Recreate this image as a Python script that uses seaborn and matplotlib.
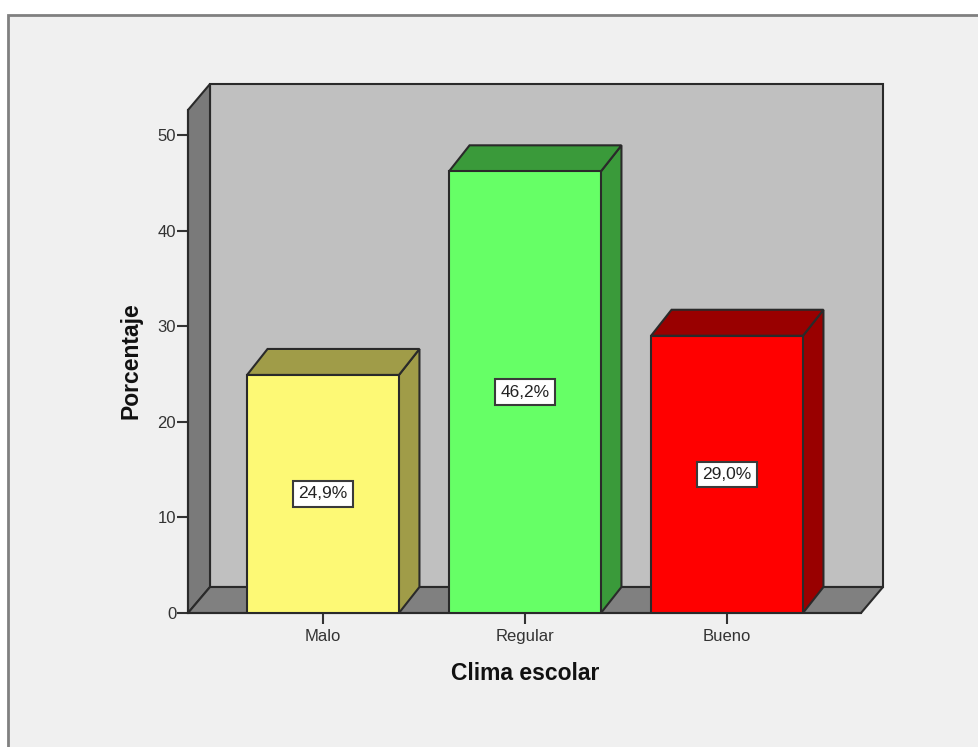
import numpy as np
import pandas as pd
import matplotlib.pyplot as plt
from matplotlib.patches import Polygon, Rectangle
import seaborn as sns

# datos
categorias = ['Malo', 'Regular', 'Bueno']
porcentajes = [24.9, 46.2, 29.0]
etiquetas = ['24,9%', '46,2%', '29,0%']
marcas_y = [0, 10, 20, 30, 40, 50]

# colores
col_frente = ['#fdf975', '#66ff66', '#ff0000']
col_lado = ['#a09c48', '#3a9a3a', '#990000']
FONDO = '#f0f0f0'
BORDE = '#2a2a2a'

sns.set_theme(style="white")
plt.rcParams['font.family'] = ['Liberation Sans', 'DejaVu Sans']

W, H = 979, 747
fig = plt.figure(figsize=(W / 100, H / 100), dpi=100, facecolor='white')

# marco exterior de la ventana (debajo de los ejes)
fig.add_artist(Rectangle((8 / W, -0.02), 1.02, 1.02 - 15 / H, transform=fig.transFigure,
                         facecolor=FONDO, edgecolor='#808080', linewidth=2, zorder=-1))

# ejes en pixeles: x 188-861, y 110-613
ax = fig.add_axes([188 / W, 1 - 613 / H, 673 / W, 503 / H])
ax.patch.set_alpha(0)

df = pd.DataFrame({'Clima escolar': categorias, 'Porcentaje': porcentajes})
sns.barplot(data=df, x='Clima escolar', y='Porcentaje', hue='Clima escolar',
            palette=col_frente, saturation=1, width=0.752, legend=False,
            edgecolor=BORDE, linewidth=1.5, zorder=3, ax=ax)

x0, x1 = (188 - 323) / 202, (861 - 323) / 202
y1 = 503 / 9.56
ax.set_xlim(x0, x1)
ax.set_ylim(0, y1)
dx, dy = 22 / 202, 26 / 9.56  # profundidad 3D
dx_barra = 20.5 / 202


def cara(puntos, color, z=1):
    ax.add_patch(Polygon(puntos, closed=True, facecolor=color, edgecolor=BORDE,
                         linewidth=1.5, zorder=z, clip_on=False))


barras = list(ax.patches)

# paredes y suelo
cara([(x0 + dx, dy), (x1 + dx, dy), (x1 + dx, y1 + dy), (x0 + dx, y1 + dy)], '#c0c0c0', 0.5)
cara([(x0, 0), (x0 + dx, dy), (x0 + dx, y1 + dy), (x0, y1)], '#7a7a7a', 0.6)
cara([(x0, 0), (x1, 0), (x1 + dx, dy), (x0 + dx, dy)], '#808080', 0.6)

# caras laterales y superiores de cada barra
for barra, lado, etq in zip(barras, col_lado, etiquetas):
    a = barra.get_x()
    b = a + barra.get_width()
    h = barra.get_height()
    cara([(b, 0), (b + dx_barra, dy), (b + dx_barra, h + dy), (b, h)], lado, 2)
    cara([(a, h), (b, h), (b + dx_barra, h + dy), (a + dx_barra, h + dy)], lado, 2)
    ax.text(a + barra.get_width() / 2, h / 2, etq, ha='center', va='center', fontsize=12.5,
            color='#222222', zorder=5,
            bbox=dict(boxstyle='square,pad=0.3', facecolor='white', edgecolor='#3a3a3a', linewidth=1.5))

ax.set_yticks(marcas_y)
ax.tick_params(axis='both', which='both', length=8, width=1.5, color='#333333',
               bottom=True, left=True, labelcolor='#333333')
ax.tick_params(axis='y', labelsize=12, pad=0.5)
ax.tick_params(axis='x', labelsize=12, pad=3.5)

sns.despine(ax=ax, top=True, right=True)
for lado in ['left', 'bottom']:
    ax.spines[lado].set_color(BORDE)
    ax.spines[lado].set_linewidth(1.5)

ax.set_xlabel('Clima escolar', fontsize=16.5, fontweight='bold', color='#111111', va='center')
ax.set_ylabel('Porcentaje', fontsize=16.5, fontweight='bold', color='#111111', va='center')
ax.xaxis.set_label_coords((525 - 188) / 673, (613 - 673) / 503)
ax.yaxis.set_label_coords((131 - 188) / 673, (613 - 361) / 503)

fig.savefig('out.png', dpi=100, facecolor='white')
